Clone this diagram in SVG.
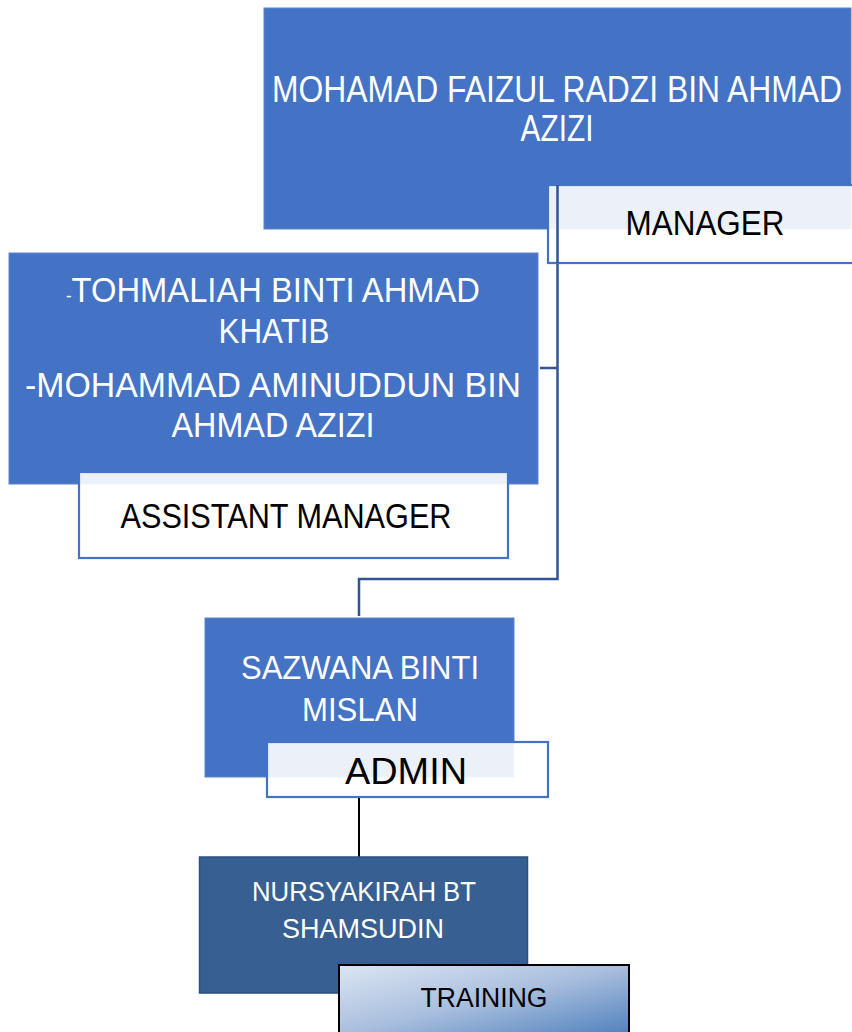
<svg xmlns="http://www.w3.org/2000/svg" width="852" height="1032" viewBox="0 0 852 1032">
<defs>
<style>
.box{fill:#4472C4;stroke:#5B84CC;stroke-width:1}
.lbl{fill:#FFFFFF;fill-opacity:0.9;stroke:#4472C4;stroke-width:2.2}
.wt{font-family:"Liberation Sans",Arial,sans-serif;fill:#FFFFFF;text-anchor:middle}
.bt{font-family:"Liberation Sans",Arial,sans-serif;fill:#000000;text-anchor:middle}
.conn{fill:none;stroke:#2F5597;stroke-width:2.5}
</style>
<linearGradient id="trg" x1="0" y1="0" x2="1" y2="1">
<stop offset="0" stop-color="#DCE6F2"/>
<stop offset="0.5" stop-color="#A9BEDE"/>
<stop offset="1" stop-color="#4F81BD"/>
</linearGradient>
</defs>
<rect width="852" height="1032" fill="#FFFFFF"/>

<g id="connectors">
<path class="conn" d="M557.5 185 V579 H359 V616"/>
<path class="conn" d="M540 368 H557.5"/>
<path fill="none" stroke="#000000" stroke-width="2" d="M359 797 V857"/>
</g>

<g id="manager">
<rect class="box" x="264" y="8" width="587" height="221"/>
<text class="wt" x="557" y="102" font-size="37" textLength="570" lengthAdjust="spacingAndGlyphs">MOHAMAD FAIZUL RADZI BIN AHMAD</text>
<text class="wt" x="557" y="141" font-size="37" textLength="73" lengthAdjust="spacingAndGlyphs">AZIZI</text>
<rect class="lbl" x="548" y="185" width="306" height="78"/>
<path class="conn" d="M557.5 185 V263"/>
<text class="bt" x="705" y="235" font-size="35" textLength="159" lengthAdjust="spacingAndGlyphs">MANAGER</text>
</g>

<g id="assistant-manager">
<rect class="box" x="9" y="253" width="529" height="231"/>
<text class="wt" x="273" y="302" font-size="35" textLength="414" lengthAdjust="spacingAndGlyphs"><tspan font-size="18">-</tspan>TOHMALIAH BINTI AHMAD</text>
<text class="wt" x="274" y="343" font-size="35" textLength="111" lengthAdjust="spacingAndGlyphs">KHATIB</text>
<text class="wt" x="273" y="397" font-size="35" textLength="496" lengthAdjust="spacingAndGlyphs">-MOHAMMAD AMINUDDUN BIN</text>
<text class="wt" x="273" y="437" font-size="35" textLength="203" lengthAdjust="spacingAndGlyphs">AHMAD AZIZI</text>
<rect class="lbl" x="79" y="472" width="429" height="86"/>
<text class="bt" x="286" y="528" font-size="35" textLength="331" lengthAdjust="spacingAndGlyphs">ASSISTANT MANAGER</text>
</g>

<g id="admin">
<rect class="box" x="205" y="618" width="309" height="159"/>
<text class="wt" x="360" y="679" font-size="33" textLength="238" lengthAdjust="spacingAndGlyphs">SAZWANA BINTI</text>
<text class="wt" x="360" y="721" font-size="33" textLength="116" lengthAdjust="spacingAndGlyphs">MISLAN</text>
<rect class="lbl" x="267" y="742" width="281" height="55"/>
<text class="bt" x="406" y="784" font-size="37" textLength="122" lengthAdjust="spacingAndGlyphs">ADMIN</text>
</g>

<g id="training">
<rect x="199.5" y="857" width="328" height="136" fill="#375F91" stroke="#2C4F7C" stroke-width="1.5"/>
<text class="wt" x="364" y="901" font-size="27" textLength="224" lengthAdjust="spacingAndGlyphs">NURSYAKIRAH BT</text>
<text class="wt" x="363" y="938" font-size="27" textLength="162" lengthAdjust="spacingAndGlyphs">SHAMSUDIN</text>
<rect x="339" y="965" width="290" height="70" fill="url(#trg)" stroke="#000000" stroke-width="2"/>
<text class="bt" x="484" y="1007" font-size="28" textLength="127" lengthAdjust="spacingAndGlyphs">TRAINING</text>
</g>
</svg>
